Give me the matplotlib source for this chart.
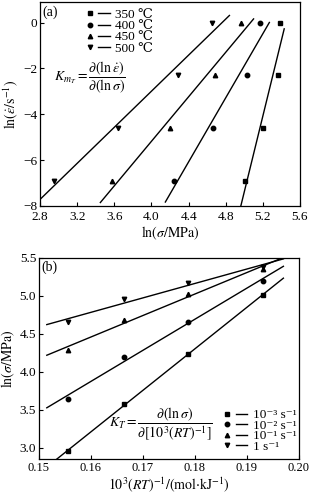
import numpy as np
import matplotlib
matplotlib.use('Agg')
import matplotlib.pyplot as plt
from matplotlib.lines import Line2D
from matplotlib.legend_handler import HandlerTuple

plt.rcParams['font.family'] = ['Liberation Serif', 'DejaVu Serif', 'Noto Sans CJK SC']
plt.rcParams['mathtext.fontset'] = 'stix'
plt.rcParams['font.size'] = 9

# temperatures and strain rates
temps = ['350 ℃', '400 ℃', '450 ℃', '500 ℃']
inv_rt = [0.1931, 0.1787, 0.1664, 0.1556]          # 10^3/(RT) for 350..500 C
rates = ['10⁻³ s⁻¹', '10⁻² s⁻¹', '10⁻¹ s⁻¹', '1 s⁻¹']
ln_rate = [-6.91, -4.61, -2.30, 0.0]                # ln(strain rate)

# ln(sigma/MPa), rows = temperature, columns = strain rate
ln_sigma_350 = [5.01, 5.20, 5.36, 5.38]
ln_sigma_400 = [4.24, 4.66, 5.03, 5.17]
ln_sigma_450 = [3.58, 4.20, 4.68, 4.96]
ln_sigma_500 = [2.95, 3.64, 4.29, 4.65]
ln_sigma = np.array([ln_sigma_350, ln_sigma_400, ln_sigma_450, ln_sigma_500])

markers = ['s', 'o', '^', 'v']
# x-extent of each fitted line
span_a = [(4.96, 5.43), (4.15, 5.27), (3.45, 5.10), (2.80, 4.84)]
span_b = (0.1515, 0.197)

fig = plt.figure(figsize=(3.09, 5.03), dpi=100)
ax1 = fig.add_axes([40 / 309, 1 - 206 / 503, 260 / 309, 204 / 503])
ax2 = fig.add_axes([39 / 309, 1 - 459 / 503, 260 / 309, 201 / 503])

hmap = {tuple: HandlerTuple(ndivide=None, pad=0.2)}

# (a) ln(strain rate) vs ln(sigma)
for i in range(4):
    x = ln_sigma[i]
    ax1.plot(x, ln_rate, ls='none', marker=markers[i], color='k', ms=3.2)
    k, b = np.polyfit(x, ln_rate, 1)
    xs = np.linspace(span_a[i][0], span_a[i][1], 2)
    ax1.plot(xs, k * xs + b, color='k', lw=1.0)

ax1.set_xlim(2.8, 5.6)
ax1.set_ylim(-8, 0.9)
ax1.set_xticks(np.arange(2.8, 5.61, 0.4))
ax1.set_yticks([0, -2, -4, -6, -8])
ax1.set_xlabel(r'$\ln(\sigma/\mathrm{MPa})$', fontsize=10, labelpad=1)
ax1.set_ylabel(r'$\ln(\dot{\varepsilon}/\mathrm{s}^{-1})$', fontsize=10, labelpad=2)
ax1.text(0.01, 0.985, '(a)', transform=ax1.transAxes, ha='left', va='top', fontsize=10)
ax1.text(0.055, 0.63, r'$K_{m_T} = \dfrac{\partial(\ln\dot{\varepsilon})}{\partial(\ln\sigma)}$',
         transform=ax1.transAxes, fontsize=10, va='center')
h1 = [(Line2D([], [], ls='none', marker=m, color='k', ms=3.2),
       Line2D([], [], color='k', lw=1.0)) for m in markers]
ax1.legend(h1, temps, loc='upper left', bbox_to_anchor=(0.13, 1.015), frameon=False,
           handler_map=hmap, handlelength=2.0, handletextpad=0.4, labelspacing=-0.08,
           fontsize=9.5, borderaxespad=0.35)

# (b) ln(sigma) vs 10^3/(RT)
for j in range(4):
    y = ln_sigma[:, j]
    ax2.plot(inv_rt, y, ls='none', marker=markers[j], color='k', ms=3.2)
    k, b = np.polyfit(inv_rt, y, 1)
    xs = np.linspace(span_b[0], span_b[1], 2)
    ax2.plot(xs, k * xs + b, color='k', lw=1.0)

ax2.set_xlim(0.15, 0.20)
ax2.set_ylim(2.85, 5.5)
ax2.set_xticks(np.arange(0.15, 0.2001, 0.01))
ax2.set_xticklabels(['0.15', '0.16', '0.17', '0.18', '0.19', '0.20'])
ax2.set_yticks(np.arange(3.0, 5.51, 0.5))
ax2.set_xlabel(r'$10^3(RT)^{-1}/(\mathrm{mol{\cdot}kJ}^{-1})$', fontsize=10, labelpad=1)
ax2.set_ylabel(r'$\ln(\sigma/\mathrm{MPa})$', fontsize=10, labelpad=2)
ax2.text(0.01, 0.985, '(b)', transform=ax2.transAxes, ha='left', va='top', fontsize=10)
ax2.text(0.27, 0.17, r'$K_{T} = \dfrac{\partial(\ln\sigma)}{\partial[10^3(RT)^{-1}]}$',
         transform=ax2.transAxes, fontsize=10, va='center')
h2 = [(Line2D([], [], ls='none', marker=m, color='k', ms=3.2),
       Line2D([], [], color='k', lw=1.0)) for m in markers]
ax2.legend(h2, rates, loc='lower right', bbox_to_anchor=(1.02, -0.01), frameon=False,
           handler_map=hmap, handlelength=2.0, handletextpad=0.4, labelspacing=-0.12,
           fontsize=9.5, borderaxespad=0.2)

for ax in (ax1, ax2):
    ax.tick_params(direction='in', length=3, width=0.8, labelsize=9.5, pad=2)
    for s in ax.spines.values():
        s.set_linewidth(0.9)
ax1.tick_params(axis='x', pad=3.5)
ax2.tick_params(axis='x', labelsize=9)

fig.savefig('out.png', dpi=100)
